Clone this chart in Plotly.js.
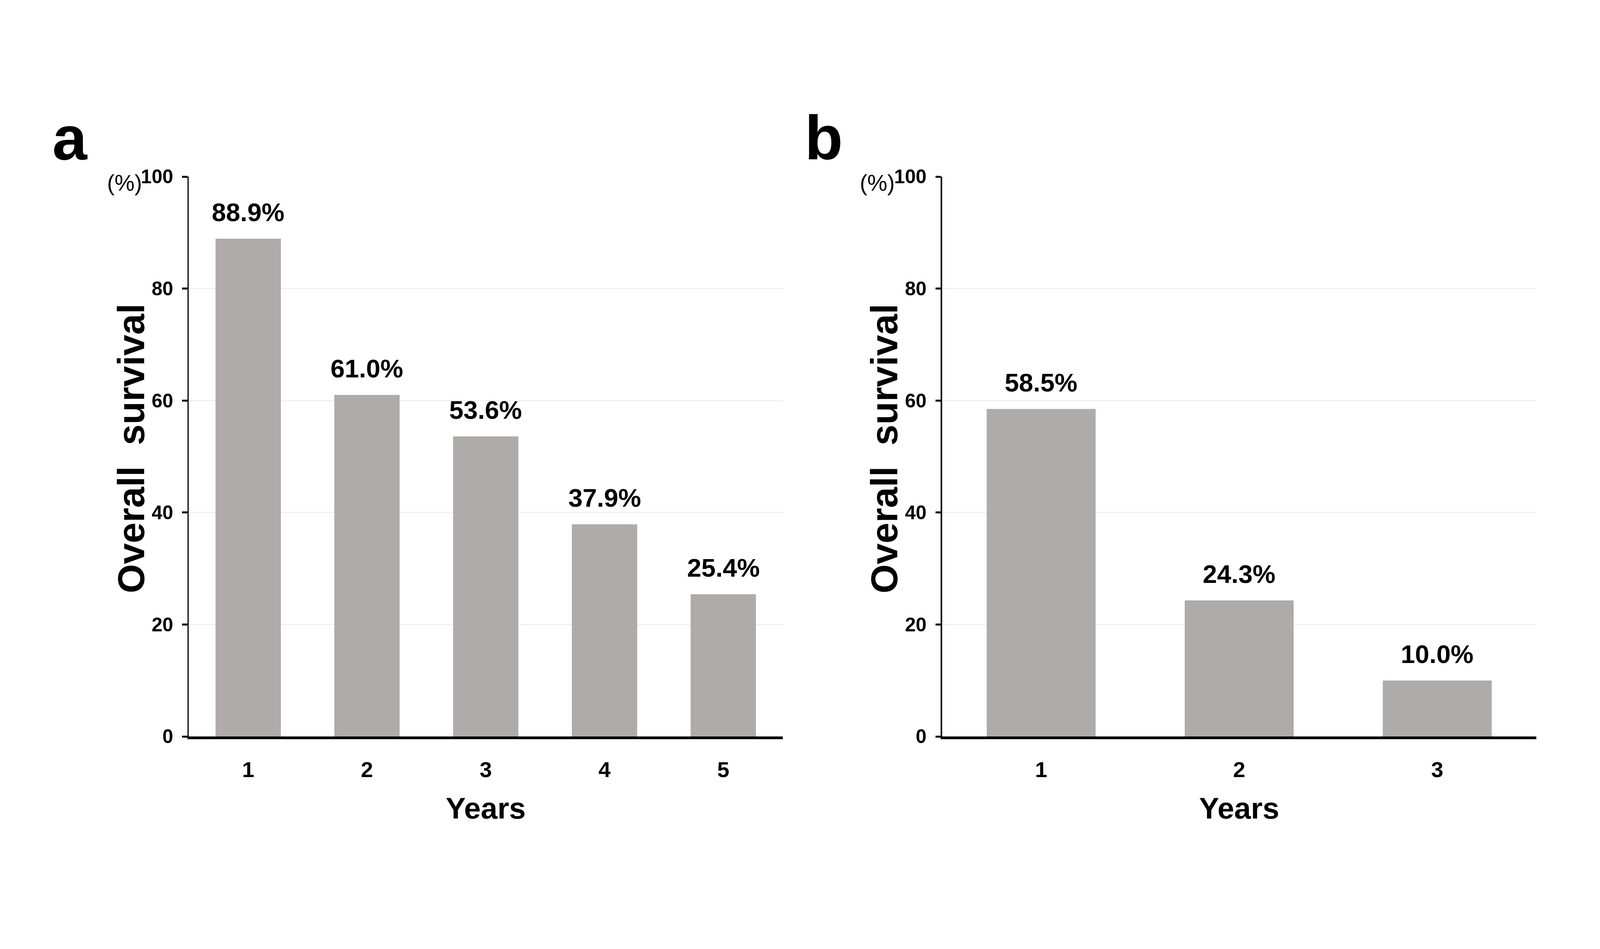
<!DOCTYPE html>
<html>
<head>
<meta charset="utf-8">
<script src="https://cdn.plot.ly/plotly-3.0.1.min.js"></script>
<style>html,body{margin:0;padding:0;background:#fff;overflow:hidden;}</style>
</head>
<body>
<div id="chart"></div>
<script>
const yearsA = ['1', '2', '3', '4', '5'];
const survivalA = [88.9, 61.0, 53.6, 37.9, 25.4];
const yearsB = ['1', '2', '3'];
const survivalB = [58.5, 24.3, 10.0];
const yTicks = [0, 20, 40, 60, 80, 100];
const panelLabels = ['a', 'b'];
const yTitle = 'Overall  survival';
const xTitle = 'Years';
const unitLabel = '(%)';

// Page geometry: the design is 6000 x 2429; fit it into the actual viewport.
const W = window.innerWidth || 4096;
const H = window.innerHeight || 2429;
const SX = W / 6000;          // horizontal scale
const SY = H / 2429;          // vertical scale
const FS = 0.8 * SY;          // font scale
const FONT = 'Liberation Sans, Arial, sans-serif';
const barColor = '#afabaa';

const traces = [
  {type: 'bar', x: yearsA, y: survivalA, xaxis: 'x', yaxis: 'y',
   marker: {color: barColor, line: {width: 0}}, hoverinfo: 'skip'},
  {type: 'bar', x: yearsB, y: survivalB, xaxis: 'x2', yaxis: 'y2',
   marker: {color: barColor, line: {width: 0}}, hoverinfo: 'skip'}
];

function xAxis(dom, anchor) {
  return {
    domain: dom, anchor: anchor, type: 'category',
    showline: true, linecolor: '#000', linewidth: 7 * SY,
    ticks: '', showgrid: false, zeroline: false,
    tickfont: {family: FONT, size: 70 * FS, color: '#000', weight: 'bold'},
    ticklabelstandoff: 30 * SY,
    title: {text: xTitle, font: {family: FONT, size: 96 * FS, color: '#000', weight: 'bold'}, standoff: 44 * SY},
    fixedrange: true
  };
}
function yAxis(anchor) {
  return {
    domain: [544 / 2429, 1977 / 2429], anchor: anchor, range: [0, 100],
    tickvals: yTicks, ticktext: yTicks.map(String),
    showline: true, linecolor: '#000', linewidth: 5 * SX,
    ticks: 'outside', ticklen: 20 * SX, tickwidth: 5 * SY, tickcolor: '#000',
    showgrid: true, gridcolor: '#f0f0f0', gridwidth: 3 * SY, zeroline: false,
    tickfont: {family: FONT, size: 62 * FS, color: '#000', weight: 'bold'},
    ticklabelstandoff: 13,
    fixedrange: true
  };
}

const annotations = [];
function addBarLabels(xs, ys, xref, yref) {
  xs.forEach((c, i) => {
    annotations.push({
      x: i, y: ys[i], xref: xref, yref: yref,
      text: ys[i].toFixed(1) + '%', showarrow: false,
      yanchor: 'bottom', xanchor: 'center', yshift: 29 * SY,
      font: {family: FONT, size: 82 * FS, color: '#000', weight: 'bold'}
    });
  });
}
addBarLabels(yearsA, survivalA, 'x', 'y');
addBarLabels(yearsB, survivalB, 'x2', 'y2');

// vertical axis titles (rotated)
[490, 3315].forEach(px => {
  annotations.push({
    x: px / 6000, y: 1 - 1148 / 2429, xref: 'paper', yref: 'paper',
    text: yTitle, textangle: -90, showarrow: false, xanchor: 'center', yanchor: 'middle',
    font: {family: FONT, size: 96 * SY, color: '#000', weight: 'bold'}
  });
});
// panel letters
[[panelLabels[0], 262], [panelLabels[1], 3090]].forEach(([t, px]) => {
  annotations.push({
    x: px / 6000, y: 1 - 352 / 2429, xref: 'paper', yref: 'paper',
    text: t, showarrow: false, xanchor: 'center', yanchor: 'middle',
    font: {family: FONT, size: 200 * FS, color: '#000', weight: 'bold'}
  });
});
// unit labels
[468, 3290].forEach(px => {
  annotations.push({
    x: px / 6000, y: 1 - 468 / 2429, xref: 'paper', yref: 'paper',
    text: unitLabel, showarrow: false, xanchor: 'center', yanchor: 'middle',
    font: {family: FONT, size: 72 * FS, color: '#000'}
  });
});

const layout = {
  width: W, height: H,
  margin: {l: 0, r: 0, t: 0, b: 0},
  paper_bgcolor: '#fff', plot_bgcolor: '#fff',
  showlegend: false, bargap: 0.45,
  xaxis: xAxis([708 / 6000, 2935 / 6000], 'y'),
  yaxis: yAxis('x'),
  xaxis2: xAxis([3533 / 6000, 5761 / 6000], 'y2'),
  yaxis2: yAxis('x2'),
  annotations: annotations
};

Plotly.newPlot('chart', traces, layout, {staticPlot: true, displayModeBar: false});
</script>
</body>
</html>
